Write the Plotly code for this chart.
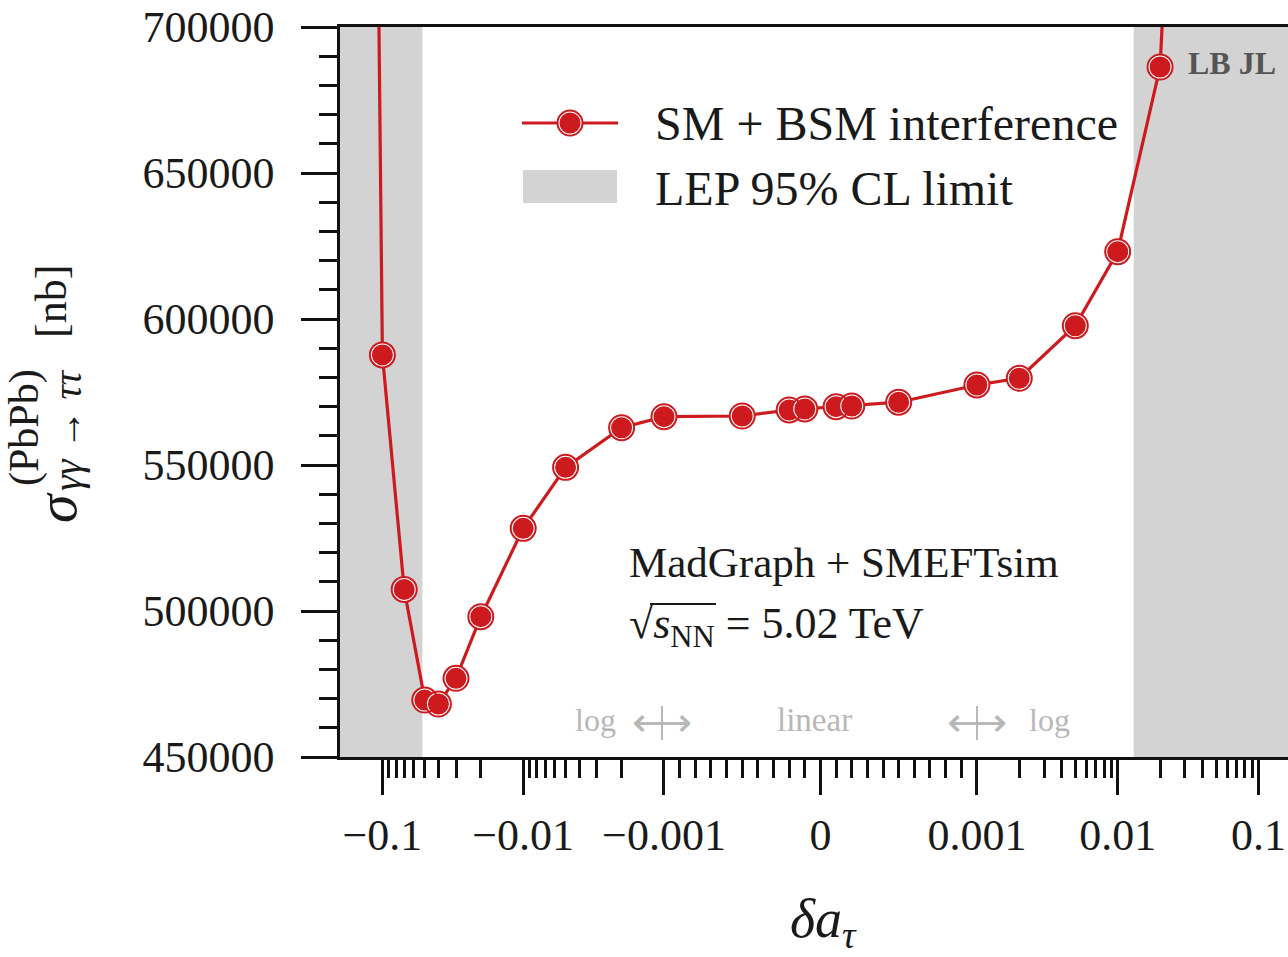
import numpy as np
import plotly.graph_objects as go

# ---------------- data ----------------
delta_a = [-0.2, -0.1, -0.07, -0.05, -0.04, -0.03, -0.02, -0.01, -0.005, -0.002,
           -0.001, -0.0005, -0.0002, -0.0001, 0.0001, 0.0002, 0.0005, 0.001,
           0.002, 0.005, 0.01, 0.02, 0.05]
sigma_nb = [1980000, 587700, 507400, 469500, 468150, 476950, 498050, 528300,
            549200, 562770, 566540, 566780, 568840, 569180, 569970, 570200,
            571500, 577400, 579700, 597700, 623050, 686300, 1074000]

lep_limits = [-0.052, 0.013]
major_ticks = [-0.1, -0.01, -0.001, 0.0, 0.001, 0.01, 0.1]
major_labels = ["\u22120.1", "\u22120.01", "\u22120.001", "0", "0.001", "0.01", "0.1"]
x_limits = [-0.2, 0.162]
y_limits = [450000, 700000]

RED = "#cc1a1f"
GREY = "#d3d3d3"
FONT = "Liberation Serif"

# ---------------- symlog scale ----------------
LINTHRESH = 1e-3
LINSCALE = 1.0
BASE = 10.0


def symlog(v):
    v = np.asarray(v, dtype=float)
    adj = LINSCALE / (1 - 1 / BASE)
    a = np.abs(v)
    safe = np.maximum(a, 1e-300)
    return np.where(a <= LINTHRESH, v / LINTHRESH * adj,
                    np.sign(v) * (adj + np.log10(safe / LINTHRESH) / np.log10(BASE)))


minor_mags = [k * d for d in (0.01, 0.001) for k in range(2, 10)] + \
             [k * 0.0001 for k in range(1, 10)]
minor_ticks = sorted([-m for m in minor_mags] + minor_mags)

xt = symlog(delta_a)
xr = symlog(x_limits)

fig = go.Figure()
fig.add_trace(go.Scatter(x=xt, y=sigma_nb, mode="lines",
                         line=dict(color=RED, width=3.2), hoverinfo="skip"))
fig.add_trace(go.Scatter(x=xt, y=sigma_nb, mode="markers",
                         marker=dict(size=23, color=RED, line=dict(color="white", width=2))))
fig.add_trace(go.Scatter(x=xt, y=sigma_nb, mode="markers",
                         marker=dict(size=25, symbol="circle-open", color=RED,
                                     line=dict(color=RED, width=2))))

# LEP shaded regions
fig.add_shape(type="rect", xref="x", yref="paper", x0=xr[0], x1=float(symlog(lep_limits[0])),
              y0=0, y1=1, fillcolor=GREY, line_width=0, layer="below")
fig.add_shape(type="rect", xref="x", yref="paper", x0=float(symlog(lep_limits[1])), x1=xr[1],
              y0=0, y1=1, fillcolor=GREY, line_width=0, layer="below")

L, R, T, B = 340, 1288, 27, 757


def P(px, py):
    return (px - L) / (R - L), (B - py) / (B - T)


annots = []


def ann(text, px, py, size, color="#1a1a1a", xanchor="center", angle=0):
    x, y = P(px, py)
    annots.append(dict(text=text, x=x, y=y, xref="paper", yref="paper", showarrow=False,
                       xanchor=xanchor, yanchor="middle", textangle=angle,
                       font=dict(family=FONT, size=size, color=color)))


def pline(px0, py0, px1, py1, color, width):
    x0, y0 = P(px0, py0)
    x1, y1 = P(px1, py1)
    fig.add_shape(type="line", xref="paper", yref="paper", x0=x0, x1=x1, y0=y0, y1=y1,
                  line=dict(color=color, width=width))


# legend (drawn manually)
pline(522, 123, 618, 123, RED, 3.2)
cx, cy = P(570, 123)
fig.add_shape(type="circle", xref="paper", yref="paper", xsizemode="pixel", ysizemode="pixel",
              xanchor=cx, yanchor=cy, x0=-12.5, x1=12.5, y0=-12.5, y1=12.5,
              fillcolor="white", line=dict(color=RED, width=2))
fig.add_shape(type="circle", xref="paper", yref="paper", xsizemode="pixel", ysizemode="pixel",
              xanchor=cx, yanchor=cy, x0=-10.5, x1=10.5, y0=-10.5, y1=10.5,
              fillcolor=RED, line=dict(width=0))
px0, py0 = P(523, 203)
px1, py1 = P(617, 170)
fig.add_shape(type="rect", xref="paper", yref="paper", x0=px0, x1=px1, y0=py0, y1=py1,
              fillcolor=GREY, line_width=0)
ann("SM + BSM interference", 653, 124, 48, xanchor="left")
ann("LEP 95% CL limit", 653, 188, 48, xanchor="left")

# labels
ann("<b>LB JL</b>", 1232, 63, 32, color="#555555")
ann("MadGraph + SMEFTsim", 627, 562, 43, xanchor="left")
ann("\u221a<i>s</i><sub>NN</sub> = 5.02 TeV", 627, 626, 44, xanchor="left")
pline(650, 604, 716, 604, "#1a1a1a", 2)

LOGC = "#b8b8b8"
ann("log", 595, 720, 32, color=LOGC)
ann("\u27f7", 662, 722, 42, color=LOGC)
pline(662, 706, 662, 740, LOGC, 2)
ann("linear", 814, 720, 33, color=LOGC)
ann("\u27f7", 977, 722, 42, color=LOGC)
pline(977, 706, 977, 740, LOGC, 2)
ann("log", 1049, 720, 32, color=LOGC)

# axis titles
ann("<i>\u03b4a</i><sub><i>\u03c4</i></sub>", 823, 922, 54)
ann("<i>\u03c3</i>", 56, 508, 58, angle=-90)
ann("(PbPb)", 24, 428, 42, angle=-90)
ann("<i>\u03b3\u03b3</i> \u2192 <i>\u03c4\u03c4</i>", 67, 430, 40, angle=-90)
ann("[nb]", 52, 302, 44, angle=-90)

AX = "#111111"
fig.update_layout(
    width=1288, height=957,
    margin=dict(l=L, r=1288 - R, t=T, b=957 - B, autoexpand=False),
    plot_bgcolor="white", paper_bgcolor="white", showlegend=False,
    font=dict(family=FONT, size=44, color="#1a1a1a"),
    annotations=annots,
    xaxis=dict(range=[float(xr[0]), float(xr[1])], tickmode="array",
               tickvals=symlog(major_ticks), ticktext=major_labels,
               ticks="outside", ticklen=35, tickwidth=2.5, tickcolor=AX,
               showline=True, linecolor=AX, linewidth=2.5, mirror=True,
               showgrid=False, zeroline=False, automargin=False,
               tickfont=dict(family=FONT, size=44, color="#1a1a1a"),
               ticklabelstandoff=2,
               minor=dict(tickmode="array", tickvals=symlog(minor_ticks), ticks="outside",
                          ticklen=18, tickwidth=2.5, tickcolor=AX, showgrid=False)),
    yaxis=dict(range=y_limits, tickmode="linear", tick0=450000, dtick=50000, tickformat="d",
               ticks="outside", ticklen=36, tickwidth=2.5, tickcolor=AX,
               showline=True, linecolor=AX, linewidth=2.5, mirror=False,
               showgrid=False, zeroline=False, automargin=False,
               tickfont=dict(family=FONT, size=44, color="#1a1a1a"),
               ticklabelstandoff=18,
               minor=dict(tick0=450000, dtick=10000, ticks="outside", ticklen=18,
                          tickwidth=2.5, tickcolor=AX, showgrid=False)),
)

fig.write_html("out.html")
